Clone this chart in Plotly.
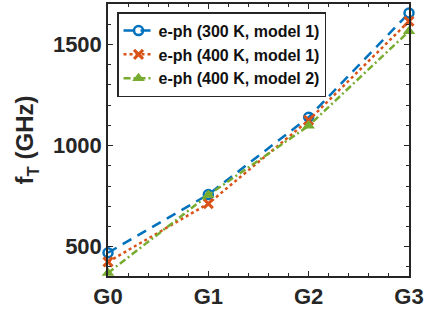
import plotly.graph_objects as go

categories = ["G0", "G1", "G2", "G3"]
xpos = [0, 1, 2, 3]
ph300_m1 = [470, 758, 1140, 1655]
ph400_m1 = [425, 713, 1125, 1615]
ph400_m2 = [370, 755, 1098, 1565]
names = ["e-ph (300 K, model 1)", "e-ph (400 K, model 1)", "e-ph (400 K, model 2)"]

FONT = "Arial, Liberation Sans, sans-serif"
DARK = "#262626"

fig = go.Figure()
fig.add_trace(go.Scatter(x=xpos, y=ph300_m1, name=names[0], mode="lines+markers",
                         line=dict(color="#0072BD", width=2.5, dash="10px,7px"),
                         marker=dict(symbol="circle-open", size=9, color="#0072BD", line=dict(width=2.5))))
fig.add_trace(go.Scatter(x=xpos, y=ph400_m1, name=names[1], mode="lines+markers",
                         line=dict(color="#D95319", width=2.5, dash="dot"),
                         marker=dict(symbol="x-thin-open", size=9, color="#D95319", line=dict(width=3, color="#D95319"))))
fig.add_trace(go.Scatter(x=xpos, y=ph400_m2, name=names[2], mode="lines+markers",
                         line=dict(color="#77AC30", width=2.5, dash="7px,3px,2px,3px"),
                         marker=dict(symbol="triangle-up", size=11, color="#77AC30")))

axis_common = dict(showline=True, linecolor=DARK, linewidth=1.5, mirror="ticks",
                   ticks="inside", ticklen=5, tickcolor=DARK, showgrid=False, zeroline=False,
                   tickfont=dict(family=FONT, size=22, color=DARK))
fig.update_xaxes(range=[0, 3], tickvals=xpos, ticktext=["<b>%s</b>" % c for c in categories],
                 minor=dict(ticks="inside", ticklen=3, dtick=0.2, tickcolor=DARK), **axis_common)
fig.update_yaxes(range=[355, 1700], tickvals=[500, 1000, 1500],
                 ticktext=["<b>500</b>", "<b>1000</b>", "<b>1500</b>"],
                 minor=dict(ticks="inside", ticklen=3, dtick=100, tick0=0, tickcolor=DARK),
                 title=dict(text="<b>f<sub>T</sub> (GHz)</b>", font=dict(family=FONT, size=24, color=DARK), standoff=12),
                 **axis_common)
fig.update_layout(width=425, height=311, margin=dict(l=108, r=16, t=4, b=35, autoexpand=False),
                  plot_bgcolor="white", paper_bgcolor="white",
                  legend=dict(x=0.03, y=0.97, xanchor="left", yanchor="top",
                              bgcolor="white", bordercolor=DARK, borderwidth=1.5,
                              font=dict(family=FONT, size=16, color="#111"),
                              tracegroupgap=0, itemwidth=30),
                  font=dict(family=FONT))
fig.update_traces(cliponaxis=False)
for t in fig.data:
    t.name = "<b>%s</b>" % t.name
fig.write_html("out.html", config={"displayModeBar": False},
               post_script="document.body.style.margin='0';")
